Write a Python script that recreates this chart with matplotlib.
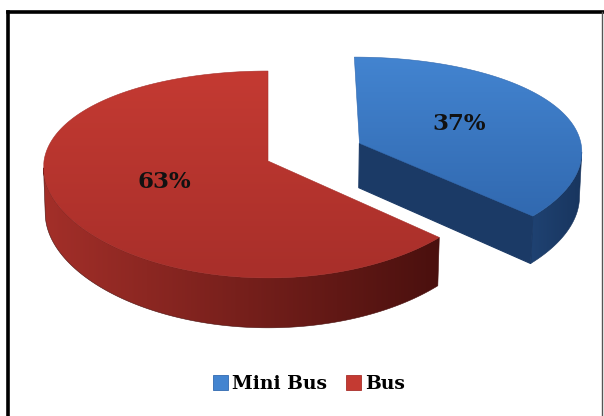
import numpy as np
import matplotlib
matplotlib.use("Agg")
import matplotlib.pyplot as plt
from matplotlib.patches import Polygon, Patch
from matplotlib.colors import LinearSegmentedColormap

# data
labels = ["Mini Bus", "Bus"]
values = [37, 63]
explode = [0.45, 0.0]

# slice styling: top-face gradient, side gradient, radial face colour
top_colors = [("#4384d0", "#3169b0"), ("#c43a32", "#a82f2a")]
side_colors = [("#1f4272", "#18355e"), ("#a32f29", "#4a100e")]
face_colors = ["#1b3a66", "#5a1512"]

# camera / projection set-up (pixel space of the figure)
W, H = 604, 416
ELEV = np.radians(27.0)
S, C = np.sin(ELEV), np.cos(ELEV)
DIST = 6.83
FOC = 1530.0
RX = 224.0
PX = 0.5          # share of perspective applied horizontally
CX, CY = 268.0, 161.0
THICK = 0.23
BASE = np.array([0.0, 0.0])


def project(X, Y, Z):
    X, Y, Z = np.asarray(X, float), np.asarray(Y, float), np.asarray(Z, float)
    v = Y * S + Z * C
    w = Y * C - Z * S
    k = FOC / (DIST + w)
    kx = RX * (1.0 + PX * (DIST / (DIST + w) - 1.0))
    sx, sy = CX + kx * X, CY - k * v
    return np.column_stack([sx, sy]) if np.ndim(X) else np.array([sx, sy])


def gradient_fill(ax, verts, c0, c1, horizontal=False, z=1):
    poly = Polygon(verts, closed=True, facecolor="none", edgecolor="none")
    ax.add_patch(poly)
    x0, y0 = verts.min(axis=0)
    x1, y1 = verts.max(axis=0)
    cmap = LinearSegmentedColormap.from_list("g", [c0, c1])
    g = np.linspace(0, 1, 256)
    arr = np.tile(g, (8, 1)) if horizontal else np.tile(g[:, None], (1, 8))
    im = ax.imshow(arr, cmap=cmap, extent=(x0, x1, y1, y0), origin="upper",
                   aspect="auto", interpolation="bilinear", zorder=z)
    im.set_clip_path(poly)
    # thin edge so the clipped image has no hairline gaps
    ax.add_patch(Polygon(verts, closed=True, facecolor="none",
                         edgecolor=c1, lw=0.4, zorder=z + 0.01))


fig = plt.figure(figsize=(W / 100, H / 100), dpi=100)
ax = fig.add_axes([0, 0, 1, 1])
ax.set_xlim(0, W)
ax.set_ylim(H, 0)
ax.axis("off")

total = float(sum(values))
starts = np.cumsum([0] + values[:-1]) / total * 360.0
spans = np.array(values) / total * 360.0

slices = []
for i in range(len(values)):
    a, b = starts[i], starts[i] + spans[i]
    mid = np.radians((a + b) / 2)
    center = BASE + explode[i] * np.array([np.sin(mid), np.cos(mid)])
    slices.append((a, b, center))

# draw the slice further back first
order = sorted(range(len(values)), key=lambda i: -slices[i][2][1])
for n, i in enumerate(order):
    a, b, cen = slices[i]
    z = 2 + n * 3
    # outer wall: the rim between the right and left silhouette points
    lo, hi = max(a, 60.0), min(b, 300.0)
    if hi > lo:
        t = np.radians(np.linspace(lo, hi, 800))
        xs = project(cen[0] + np.sin(t), cen[1] + np.cos(t), np.zeros_like(t))[:, 0]
        j0 = int(np.argmax(xs))
        j1 = j0 + int(np.argmin(xs[j0:]))
        t = t[j0:j1 + 1]
        if len(t) > 1:
            Xs, Ys = cen[0] + np.sin(t), cen[1] + np.cos(t)
            top = project(Xs, Ys, np.zeros_like(t))
            bot = project(Xs, Ys, np.full_like(t, -THICK))
            gradient_fill(ax, np.vstack([top, bot[::-1]]), *side_colors[i],
                          horizontal=True, z=z)
    # radial cut face at the clockwise end, when it faces the viewer
    r = np.radians(b)
    d = np.array([np.sin(r), np.cos(r)])
    if 90.0 < b < 270.0:
        pts = [(cen[0], cen[1], 0), (cen[0] + d[0], cen[1] + d[1], 0),
               (cen[0] + d[0], cen[1] + d[1], -THICK), (cen[0], cen[1], -THICK)]
        v = np.array([project(*p) for p in pts])
        ax.add_patch(Polygon(v, closed=True, facecolor=face_colors[i],
                             edgecolor=face_colors[i], lw=0.8, zorder=z + 1))
    # top face
    t = np.radians(np.linspace(a, b, 400))
    arc = project(cen[0] + np.sin(t), cen[1] + np.cos(t), np.zeros_like(t))
    verts = np.vstack([project(cen[0], cen[1], 0.0), arc])
    gradient_fill(ax, verts, *top_colors[i], z=z + 2)

    # percentage label on the top face
    mid = np.radians((a + b) / 2)
    lx, ly = project(cen[0] + 0.5 * np.sin(mid), cen[1] + 0.5 * np.cos(mid), 0.0)
    ax.text(lx, ly, f"{values[i]}%", ha="center", va="center",
            fontsize=16.5, fontweight="bold", family="DejaVu Serif",
            color="#111111", zorder=20)

# legend
handles = [Patch(facecolor=top_colors[i][0], edgecolor=top_colors[i][1], lw=0.6)
           for i in range(len(values))]
leg = ax.legend(handles, labels, loc="center", bbox_to_anchor=(309 / W, 1 - 384 / H),
                ncol=2, frameon=False, handlelength=0.8, handleheight=0.8,
                handletextpad=0.2, columnspacing=1.0,
                prop={"family": "DejaVu Serif", "weight": "bold", "size": 13.5})

# chart frame
ax.plot([8, 8], [H, 11.5], color="black", lw=2.6, solid_capstyle="projecting", zorder=30)
ax.plot([8, W], [11.5, 11.5], color="black", lw=2.6, solid_capstyle="projecting", zorder=30)
ax.plot([602, 602], [11.5, H], color="#555555", lw=1.0, zorder=30)

fig.savefig("out.png", dpi=100)
